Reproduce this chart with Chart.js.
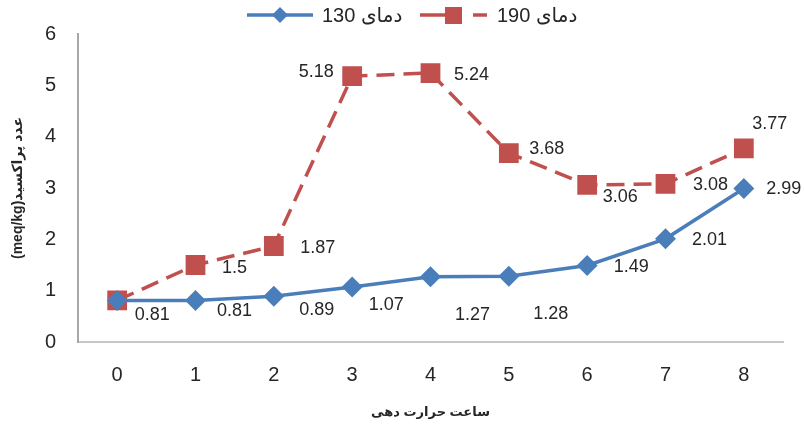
<!DOCTYPE html>
<html>
<head>
<meta charset="utf-8">
<script src="https://cdn.jsdelivr.net/npm/chart.js@4/dist/chart.umd.min.js"></script>
<style>
  html, body { margin: 0; padding: 0; background: #fff; }
  #wrap { width: 805px; height: 424px; }
</style>
</head>
<body>
<div id="wrap"><canvas id="chart" width="805" height="424"></canvas></div>
<script>
// données
const hours = ['0', '1', '2', '3', '4', '5', '6', '7', '8'];
const temp130 = [0.81, 0.81, 0.89, 1.07, 1.27, 1.28, 1.49, 2.01, 2.99];
const temp190 = [0.81, 1.5, 1.87, 5.18, 5.24, 3.68, 3.06, 3.08, 3.77];
const label130 = 'دمای 130';
const label190 = 'دمای 190';
const xTitle = 'ساعت حرارت دهی';
const yTitle = 'عدد پراکسید(meq/kg)';

// décalage des étiquettes de valeur (pixels)
const off130 = [[35, 15], [39, 11], [43, 14], [34, 18], [42, 38], [42, 38], [44, 2], [44, 1], [40, 1]];
const off190 = [null, [39, 3], [44, 2], [-36, -4], [41, 2], [38, -4], [33, 12], [45, 1], [26, -24]];

const BLUE = '#4a7ebb';
const RED = '#c0504d';
const TXT = '#262626';
const FONT = "'Liberation Sans', Arial, 'DejaVu Sans', sans-serif";

// étiquettes de valeur à côté des points
const valueLabels = {
    id: 'valueLabels',
    afterDatasetsDraw(chart) {
        const ctx = chart.ctx;
        const offsets = [off130, off190];
        ctx.save();
        ctx.font = '18px ' + FONT;
        ctx.fillStyle = TXT;
        ctx.textAlign = 'center';
        ctx.textBaseline = 'middle';
        chart.data.datasets.forEach((ds, i) => {
            const meta = chart.getDatasetMeta(i);
            meta.data.forEach((pt, j) => {
                const o = offsets[i][j];
                if (!o) return;
                ctx.fillText(String(ds.data[j]), pt.x + o[0], pt.y + o[1]);
            });
        });
        ctx.restore();
    }
};

// légende dessinée à la main (ligne + marqueur)
const topLegend = {
    id: 'topLegend',
    afterDraw(chart) {
        const ctx = chart.ctx;
        const y = 15;
        ctx.save();
        // série 130
        ctx.strokeStyle = BLUE;
        ctx.lineWidth = 3.5;
        ctx.beginPath(); ctx.moveTo(247, y); ctx.lineTo(313, y); ctx.stroke();
        ctx.fillStyle = BLUE;
        ctx.beginPath();
        ctx.moveTo(280, y - 8); ctx.lineTo(288, y); ctx.lineTo(280, y + 8); ctx.lineTo(272, y);
        ctx.closePath(); ctx.fill();
        // série 190
        ctx.strokeStyle = RED;
        ctx.beginPath(); ctx.moveTo(420, y); ctx.lineTo(445, y); ctx.stroke();
        ctx.beginPath(); ctx.moveTo(473, y); ctx.lineTo(487, y); ctx.stroke();
        ctx.fillStyle = RED;
        ctx.fillRect(445, y - 8, 17, 17);
        // textes
        ctx.fillStyle = TXT;
        ctx.font = '20px ' + FONT;
        ctx.textBaseline = 'middle';
        ctx.textAlign = 'left';
        ctx.direction = 'rtl';
        ctx.fillText(label130, 322, y + 1);
        ctx.fillText(label190, 497, y + 1);
        ctx.restore();
    }
};

new Chart(document.getElementById('chart'), {
    type: 'line',
    data: {
        labels: hours,
        datasets: [
            {
                label: label130,
                data: temp130,
                borderColor: BLUE,
                backgroundColor: BLUE,
                borderWidth: 3.5,
                pointStyle: 'rectRot',
                pointRadius: 8,
                pointHoverRadius: 8,
                tension: 0
            },
            {
                label: label190,
                data: temp190,
                borderColor: RED,
                backgroundColor: RED,
                borderWidth: 3.5,
                borderDash: [18, 9],
                pointStyle: 'rect',
                pointRadius: 11.5,
                pointHoverRadius: 11.5,
                tension: 0
            }
        ]
    },
    options: {
        responsive: false,
        animation: false,
        events: [],
        layout: { padding: { top: 32, right: 22, left: 0, bottom: 0 } },
        plugins: {
            legend: { display: false },
            tooltip: { enabled: false }
        },
        scales: {
            x: {
                offset: true,
                grid: { display: false, drawTicks: false, offset: true },
                border: { display: true, color: '#c8c8c8', width: 2 },
                ticks: { font: { family: FONT, size: 20 }, color: TXT, padding: 21 },
                title: {
                    display: true, text: xTitle, color: TXT,
                    font: { family: FONT, size: 13, weight: 'bold' },
                    padding: { top: 10, bottom: 4 }
                },
                afterFit: (s) => { s.height = 82; }
            },
            y: {
                min: 0,
                max: 6,
                grid: { display: false, drawTicks: false },
                border: { display: true, color: '#a8a8a8', width: 2 },
                ticks: { stepSize: 1, font: { family: FONT, size: 20 }, color: TXT, padding: 22 },
                title: {
                    display: true, text: '\u202B' + yTitle + '\u202C', color: TXT,
                    font: { family: FONT, size: 14, weight: 'bold' },
                    padding: { top: 10, bottom: 4 }
                },
                afterFit: (s) => { s.width = 78; }
            }
        }
    },
    plugins: [valueLabels, topLegend]
});
</script>
</body>
</html>
